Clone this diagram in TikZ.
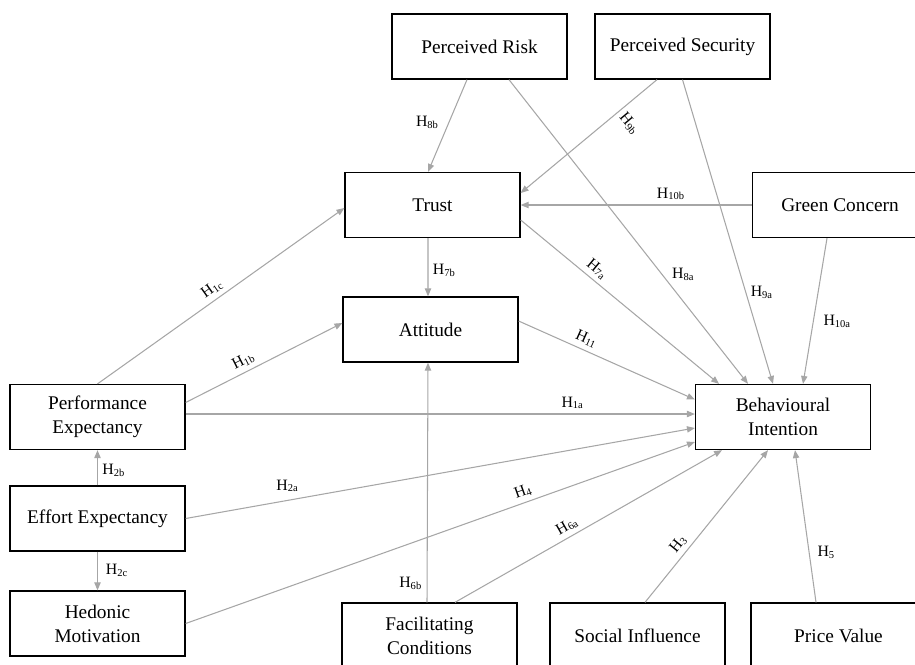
\documentclass[tikz,border=0pt]{standalone}
\usepackage{fontspec}
\setmainfont{Liberation Serif}
\usetikzlibrary{arrows.meta}
\definecolor{arrowgray}{HTML}{A6A6A6}
\tikzset{
  construct/.style={draw, line width=0.75pt, minimum width=3.5cm, minimum height=1.3cm,
    align=center, inner sep=0pt, font=\fontsize{11}{13.8}\selectfont},
  hyp/.style={draw=arrowgray, line width=0.6pt, -{Triangle[length=4.5pt,width=3.6pt]}},
  hlab/.style={font=\fontsize{9}{10}\selectfont, inner sep=2.5pt}
}
\begin{document}
\begin{tikzpicture}[x=0.02cm,y=-0.02cm]
  \path[use as bounding box] (0,0) rectangle (915,664);
  \clip (0,0) rectangle (915,664);

  \node[construct] (pr) at (479.5,46.5) {Perceived Risk};
  \node[construct] (ps) at (682.5,46.5) {Perceived Security};
  \node[construct] (tr) at (432.5,205) {Trust};
  \node[construct] (gc) at (840,205) {Green Concern};
  \node[construct] (att) at (430.5,329.5) {Attitude};
  \node[construct] (pe) at (97.5,417) {Performance\\Expectancy};
  \node[construct] (bi) at (783,417) {Behavioural\\Intention};
  \node[construct] (ee) at (97.5,518.5) {Effort Expectancy};
  \node[construct] (hm) at (97.5,623.5) {Hedonic\\Motivation};
  \node[construct] (fc) at (429.5,635.5) {Facilitating\\Conditions};
  \node[construct] (si) at (637.5,635.5) {Social Influence};
  \node[construct] (pv) at (838.5,635.5) {Price Value};

  \draw[hyp] ([xshift=-0.25cm]pr.south) -- node[hlab,pos=0.46,left=3pt]{H\textsubscript{8b}} ([xshift=-0.09cm]tr.north);
  \draw[hyp] ([xshift=0.59cm]pr.south) -- node[hlab,pos=0.64,right=3pt]{H\textsubscript{8a}} ([xshift=-0.7cm]bi.north);
  \draw[hyp] ([xshift=-0.51cm]ps.south) -- node[hlab,pos=0.28,anchor=west,rotate=-50]{H\textsubscript{9b}} ([yshift=0.24cm]tr.east);
  \draw[hyp] (ps.south) -- node[hlab,pos=0.7,right]{H\textsubscript{9a}} ([xshift=-0.2cm]bi.north);
  \draw[hyp] (gc.west) -- node[hlab,pos=0.35,above]{H\textsubscript{10b}} (tr.east);
  \draw[hyp] ([xshift=-0.26cm]gc.south) -- node[hlab,pos=0.57,right=3pt]{H\textsubscript{10a}} ([xshift=0.4cm]bi.north);
  \draw[hyp] ([yshift=-0.3cm]tr.east) -- node[hlab,pos=0.35,sloped,above]{H\textsubscript{7a}} ([xshift=-1.28cm]bi.north);
  \draw[hyp] ([xshift=-0.09cm]tr.south) -- node[hlab,pos=0.55,right]{H\textsubscript{7b}} ([xshift=-0.05cm]att.north);
  \draw[hyp] ([yshift=0.17cm]att.east) -- node[hlab,pos=0.36,sloped,above]{H\textsubscript{11}} ([yshift=0.35cm]bi.west);

  \draw[hyp] (pe.north) -- node[hlab,pos=0.49,sloped,above]{H\textsubscript{1c}} ([yshift=-0.06cm]tr.west);
  \draw[hyp] ([yshift=0.29cm]pe.east) -- node[hlab,pos=0.4,sloped,above]{H\textsubscript{1b}} ([yshift=0.13cm]att.west);
  \draw[hyp] ([yshift=0.06cm]pe.east) -- node[hlab,pos=0.76,above]{H\textsubscript{1a}} ([yshift=0.06cm]bi.west);
  \draw[hyp] (ee.north) -- node[hlab,pos=0.43,right]{H\textsubscript{2b}} (pe.south);
  \draw[hyp] (ee.south) -- node[hlab,pos=0.48,right=2pt]{H\textsubscript{2c}} (hm.north);
  \draw[hyp] (ee.east) -- node[hlab,pos=0.2,above=2pt]{H\textsubscript{2a}} ([yshift=-0.22cm]bi.west);
  \draw[hyp] (hm.east) -- node[hlab,pos=0.67,sloped,above]{H\textsubscript{4}} ([yshift=-0.5cm]bi.west);

  \draw[hyp] ([xshift=-0.05cm]fc.north) -- node[hlab,pos=0.08,left]{H\textsubscript{6b}} ([xshift=-0.05cm]att.south);
  \draw[hyp] ([xshift=0.51cm]fc.north) -- node[hlab,pos=0.44,sloped,above]{H\textsubscript{6a}} ([xshift=-1.22cm]bi.south);
  \draw[hyp] ([xshift=0.15cm]si.north) -- node[hlab,pos=0.34,sloped,above]{H\textsubscript{3}} ([xshift=-0.3cm]bi.south);
  \draw[hyp] ([xshift=-0.45cm]pv.north) -- node[hlab,pos=0.33,right=2pt]{H\textsubscript{5}} ([xshift=0.24cm]bi.south);
\end{tikzpicture}
\end{document}
